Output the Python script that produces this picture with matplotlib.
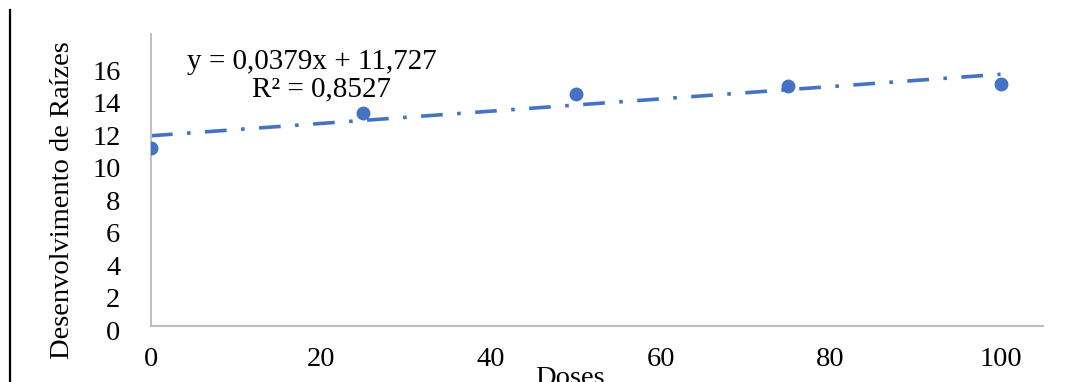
import matplotlib
matplotlib.use("Agg")
import matplotlib.pyplot as plt
from matplotlib.lines import Line2D
from matplotlib.transforms import ScaledTranslation
import numpy as np

plt.rcParams['font.family'] = ['Liberation Serif', 'DejaVu Serif']

doses = [0, 25, 50, 75, 100]
raizes = [11.0, 13.1, 14.3, 14.8, 14.9]
slope = 0.0379
intercept = 11.727
r2_text = "R² = 0,8527"
eq_text = "y = 0,0379x + 11,727"
x_ticks = [0, 20, 40, 60, 80, 100]
y_ticks = [0, 2, 4, 6, 8, 10, 12, 14, 16]

blue = "#4472C4"
grey = "#bfbfbf"

fig = plt.figure(figsize=(10.85, 3.82), dpi=100)
ax = fig.add_axes([151/1085, 56/382, (1043-151)/1085, (326-34)/382])

# trend line
xt = np.array([0, 100])
ax.plot(xt, slope*xt + intercept, color=blue, lw=2.6,
        linestyle=(0, (6, 4, 1, 4)), dash_capstyle='butt', zorder=2)
ax.plot(doses, raizes, "o", color=blue, markersize=9, zorder=3)

ax.set_xlim(0, 105)
ax.set_ylim(0, 18)
ax.set_xticks(x_ticks)
ax.set_yticks(y_ticks)
ax.tick_params(length=0, labelsize=20.5)
ax.tick_params(axis='x', pad=15)
ax.tick_params(axis='y', pad=22)
# y labels sit a little below their ticks in the original
shift = ScaledTranslation(0, -4/100, fig.dpi_scale_trans)
for lab in ax.get_yticklabels():
    lab.set_transform(lab.get_transform() + shift)
for s in ['top', 'right']:
    ax.spines[s].set_visible(False)
for s in ['left', 'bottom']:
    ax.spines[s].set_color(grey)
    ax.spines[s].set_linewidth(1.5)

fig.text(312/1085, 1 - 62/382, eq_text, ha='center', va='center', fontsize=21)
fig.text(322/1085, 1 - 89/382, r2_text, ha='center', va='center', fontsize=21)

fig.text(63/1085, 1 - 200/382, "Desenvolvimento de Raízes", rotation=90,
         ha='center', va='center', fontsize=20.5)
fig.text(570/1085, 1 - 366/382, "Doses", ha='center', va='top', fontsize=20.5)

fig.add_artist(Line2D([10/1085, 10/1085], [0, 1 - 10/382], color='black',
                      lw=1.6, transform=fig.transFigure))

fig.savefig("out.png", dpi=100)
